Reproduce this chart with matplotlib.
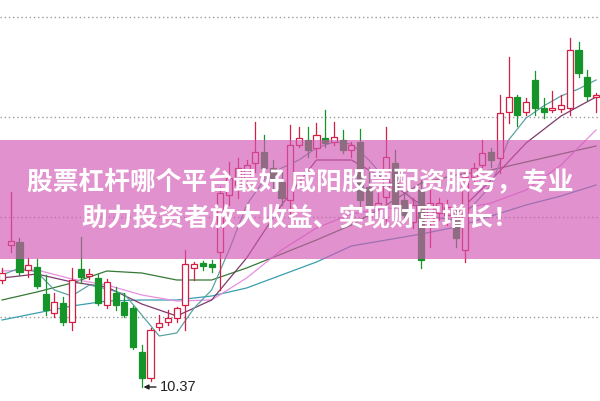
import numpy as np
import matplotlib
matplotlib.use("Agg")
import matplotlib.pyplot as plt
from matplotlib.patches import Rectangle

# daily candles
opens = [11.44, 11.79, 11.82, 11.54, 11.57, 11.30, 11.11, 11.21, 11.02, 11.55,
         11.48, 11.46, 11.19, 11.31, 11.22, 11.16, 10.72, 10.46, 10.97, 11.02,
         11.06, 11.19, 11.56, 11.61, 11.60, 11.72, 12.29, 12.39, 12.46, 12.61,
         12.72, 12.56, 12.42, 12.24, 12.79, 12.84, 12.76, 12.86, 12.82, 12.84,
         12.74, 12.82, 12.37, 12.17, 12.27, 12.61, 12.24, 12.02, 12.34, 12.01,
         12.11, 12.09, 12.04, 11.74, 12.47, 12.59, 12.72, 12.66, 13.12, 13.27,
         13.12, 13.44, 13.16, 13.14, 13.15, 13.16, 13.74, 13.47, 13.27]
highs = [11.56, 12.32, 11.86, 11.66, 11.65, 11.49, 11.31, 11.27, 11.56, 11.87,
         11.55, 11.50, 11.45, 11.37, 11.31, 11.18, 10.79, 10.96, 11.09, 11.14,
         11.17, 11.74, 11.62, 11.63, 11.64, 12.37, 12.62, 12.66, 12.64, 13.02,
         12.89, 12.64, 12.52, 12.99, 12.97, 12.97, 13.01, 13.14, 13.02, 12.94,
         12.82, 12.95, 12.57, 12.31, 12.97, 12.74, 12.34, 12.26, 12.44, 12.34,
         12.26, 12.24, 12.17, 12.52, 12.61, 12.84, 12.76, 13.29, 13.67, 13.29,
         13.26, 13.53, 13.26, 13.33, 13.29, 13.86, 13.82, 13.54, 13.31]
lows = [11.41, 11.72, 11.49, 11.47, 11.36, 11.09, 11.07, 10.99, 10.94, 11.41,
        11.45, 11.19, 11.16, 11.14, 11.07, 10.75, 10.37, 10.43, 10.94, 10.99,
        11.02, 10.94, 11.44, 11.54, 11.52, 11.34, 12.19, 12.26, 12.39, 12.52,
        12.47, 12.36, 12.19, 12.07, 12.77, 12.67, 12.67, 12.77, 12.79, 12.71,
        12.67, 12.14, 12.12, 12.14, 12.01, 12.14, 12.02, 11.96, 11.56, 11.77,
        12.04, 11.99, 11.77, 11.62, 12.41, 12.56, 12.57, 12.51, 13.01, 12.98,
        13.09, 13.09, 13.06, 13.12, 13.12, 13.09, 13.47, 13.24, 13.12]
closes = [11.51, 11.83, 11.52, 11.59, 11.38, 11.14, 11.22, 11.02, 11.44, 11.47,
          11.50, 11.21, 11.42, 11.19, 11.09, 10.77, 10.46, 10.94, 11.01, 11.06,
          11.16, 11.60, 11.60, 11.58, 11.57, 12.31, 12.46, 12.56, 12.59, 12.72,
          12.56, 12.44, 12.26, 12.79, 12.86, 12.74, 12.89, 12.81, 12.87, 12.74,
          12.79, 12.24, 12.17, 12.21, 12.67, 12.19, 12.09, 12.19, 11.64, 12.21,
          12.21, 12.17, 11.86, 12.47, 12.56, 12.71, 12.64, 13.11, 13.27, 13.09,
          13.22, 13.16, 13.12, 13.16, 13.19, 13.74, 13.51, 13.28, 13.29]

# moving average lines
ma5_idx = list(range(0, 69, 2))
ma5 = [11.49, 11.56, 11.52, 11.34, 11.28, 11.39, 11.35, 11.30, 11.09, 10.88,
       10.91, 11.16, 11.34, 11.74, 12.19, 12.44, 12.56, 12.64, 12.76, 12.82,
       12.80, 12.64, 12.44, 12.34, 12.14, 12.06, 12.04, 12.19, 12.39, 12.84,
       13.06, 13.18, 13.28, 13.35, 13.44]
ma_idx = list(range(0, 69, 4))
ma10 = [11.46, 11.50, 11.42, 11.37, 11.20, 11.08, 11.24, 11.66, 12.19,
        12.64, 12.64, 12.44, 12.19, 12.10, 12.44, 12.81, 13.08, 13.27]
ma20 = [11.53, 11.54, 11.45, 11.39, 11.29, 11.23, 11.24, 11.46, 11.74,
        11.96, 12.10, 12.16, 12.14, 12.14, 12.21, 12.34, 12.59, 12.94]
ma30 = [11.24, 11.32, 11.41, 11.53, 11.51, 11.44, 11.44, 11.56, 11.70,
        11.84, 11.99, 12.19, 12.41, 12.49, 12.54, 12.62, 12.70, 12.78]
ma60 = [11.04, 11.11, 11.18, 11.23, 11.24, 11.24, 11.28, 11.36, 11.49,
        11.62, 11.78, 11.84, 11.90, 11.97, 12.08, 12.19, 12.28, 12.39]

grid_levels = [14.07, 13.07, 12.07, 11.07]
low_label = "10.37"
low_index = 16
title_lines = ["股票杠杆哪个平台最好 咸阳股票配资服务，专业",
               "助力投资者放大收益、实现财富增长！"]

RED = "#d41f45"
GREEN = "#15942a"

fig = plt.figure(figsize=(6.0, 4.01), dpi=100)
ax = fig.add_axes([0, 0, 1, 1])
ax.set_xlim(-0.23, 68.46)
ax.set_ylim(10.23, 14.24)
ax.axis("off")

for lv in grid_levels:
    ax.axhline(lv, color="#9a9a9a", lw=1.0, ls=(0, (1, 2)), zorder=1)

ax.plot(ma_idx, ma60, color="#3a9fb0", lw=0.9, zorder=2)
ax.plot(ma_idx, ma30, color="#357a35", lw=0.9, zorder=2)
ax.plot(ma_idx, ma20, color="#e78ee3", lw=0.9, zorder=2)
ax.plot(ma_idx, ma10, color="#7e3a6c", lw=0.9, zorder=2)
ax.plot(ma5_idx, ma5, color="#5aa3a0", lw=0.9, zorder=2)

w = 0.7
for i, (o, h, l, c) in enumerate(zip(opens, highs, lows, closes)):
    up = c >= o
    col = RED if up else GREEN
    lo_b, hi_b = min(o, c), max(o, c)
    ax.plot([i, i], [hi_b, h], color=col, lw=0.9, zorder=3)
    ax.plot([i, i], [l, lo_b], color=col, lw=0.9, zorder=3)
    hgt = max(hi_b - lo_b, 0.015)
    ax.add_patch(Rectangle((i - w / 2, lo_b), w, hgt,
                           facecolor="white" if up else GREEN,
                           edgecolor=col, lw=0.9, zorder=4))

ax.annotate(low_label, xy=(low_index + 0.2, lows[low_index]),
            xytext=(low_index + 2.1, lows[low_index]),
            fontsize=10.5, family="Liberation Sans", color="#222222",
            ha="left", va="center",
            arrowprops=dict(arrowstyle="-|>", color="#222222", lw=1.0,
                            mutation_scale=7, shrinkA=1, shrinkB=0),
            zorder=5)

# pink banner over the chart
fig.add_artist(Rectangle((0, 0.354), 1, 0.297, transform=fig.transFigure,
                         facecolor="#d257b3", alpha=0.65, lw=0, zorder=10))
fig.text(0.5, 0.544, title_lines[0], ha="center", va="center", color="white",
         fontsize=18.5, fontweight="bold",
         family=["Noto Sans CJK SC", "DejaVu Sans"], zorder=11)
fig.text(0.5, 0.457, title_lines[1], ha="center", va="center", color="white",
         fontsize=18.5, fontweight="bold",
         family=["Noto Sans CJK SC", "DejaVu Sans"], zorder=11)

fig.savefig("out.png", dpi=100)
